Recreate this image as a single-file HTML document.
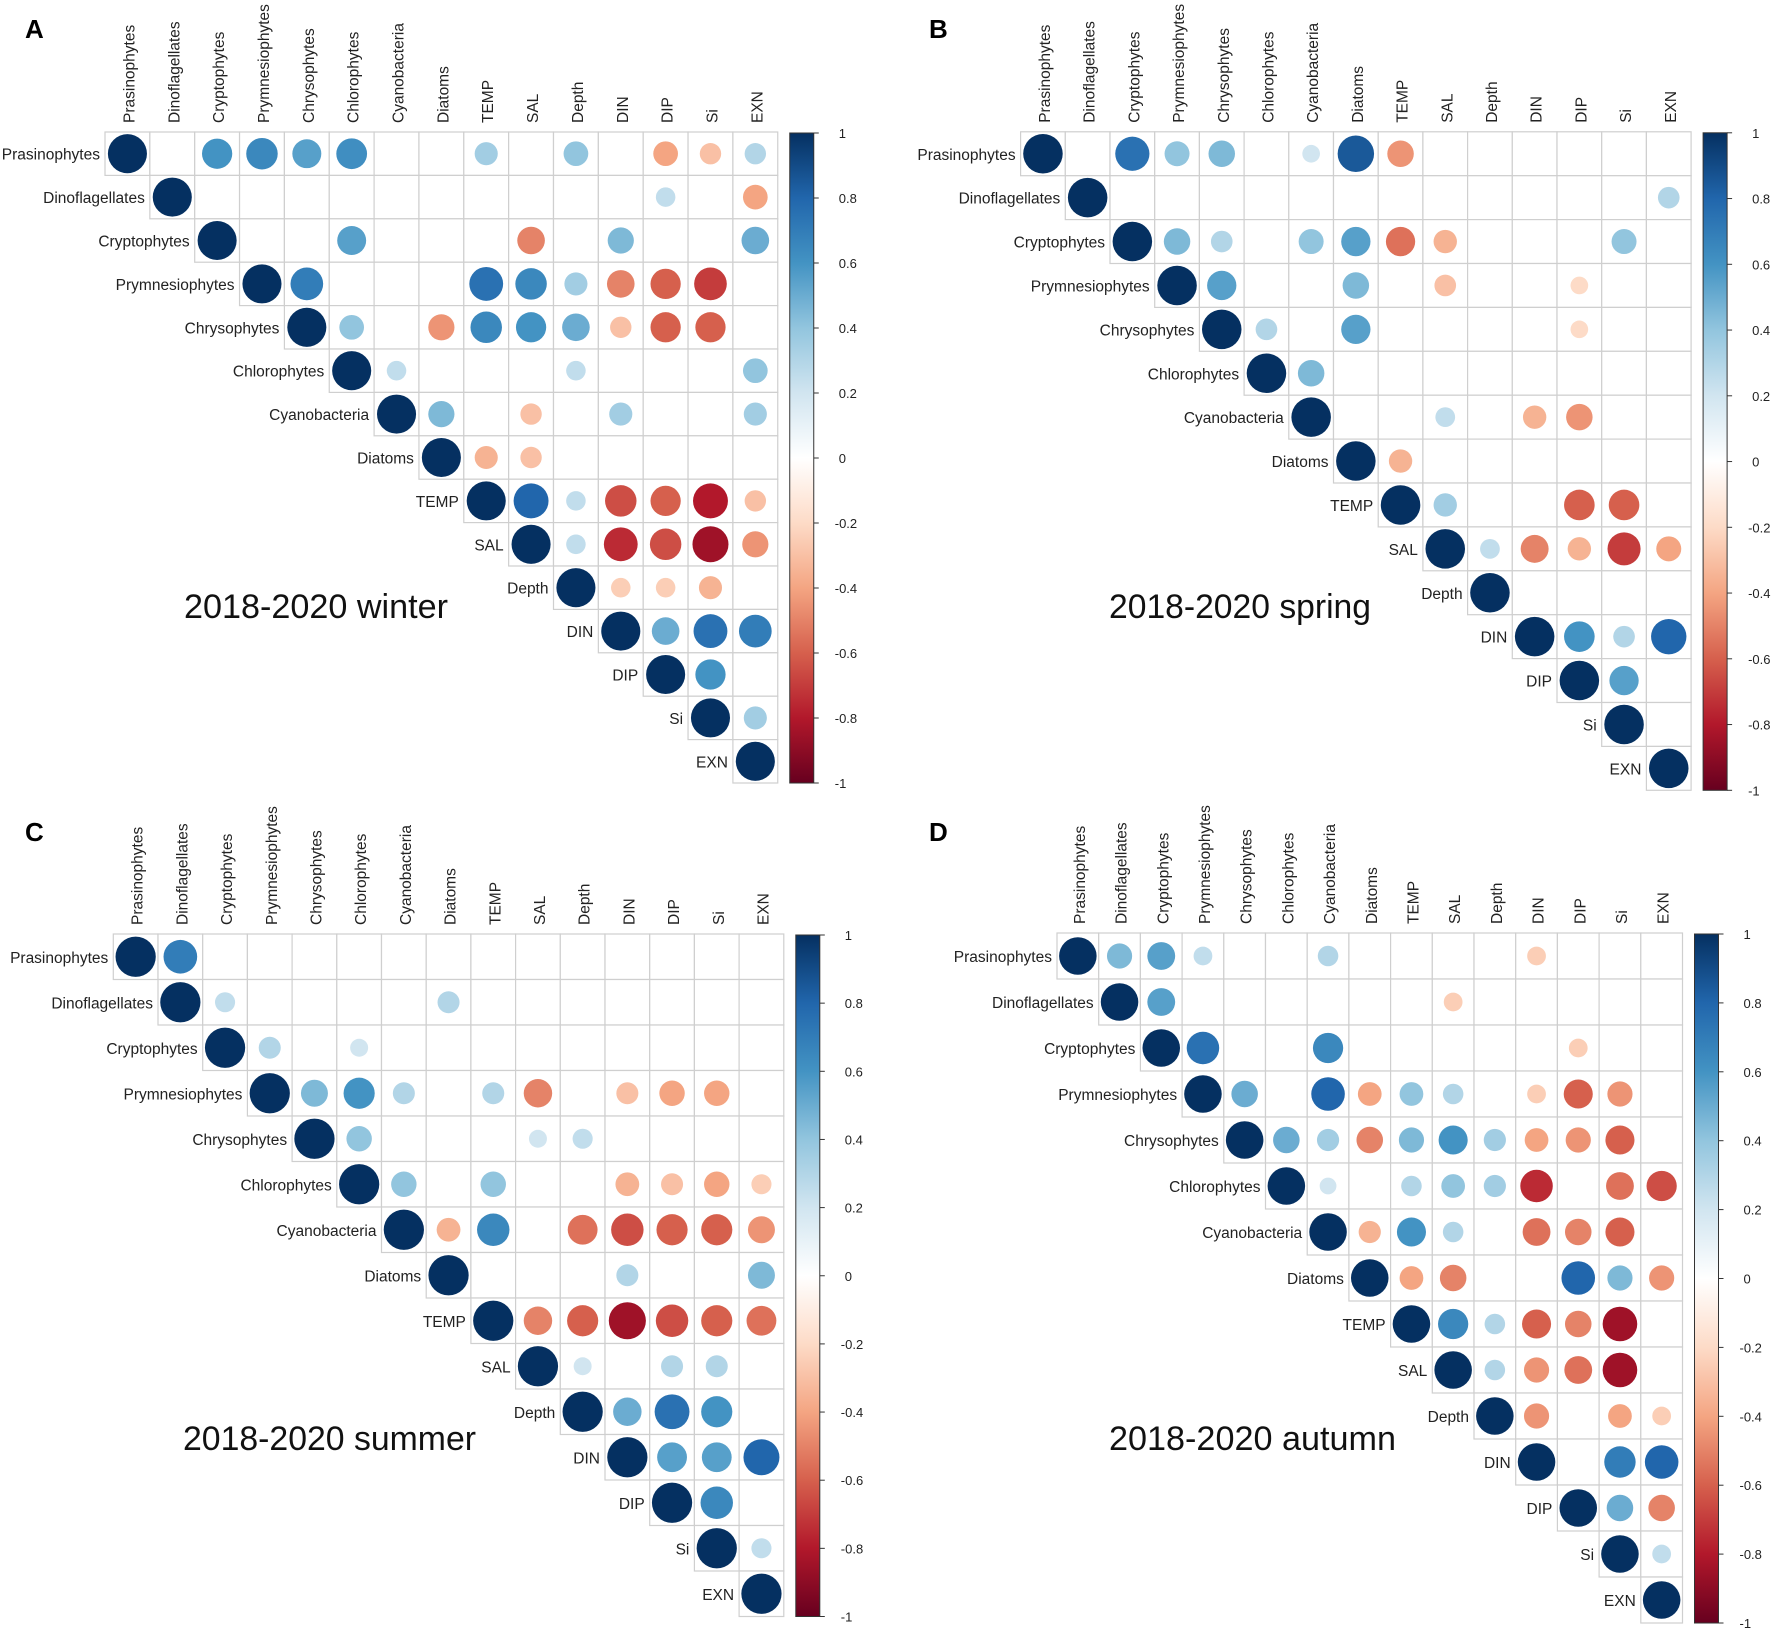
<!DOCTYPE html>
<html><head><meta charset="utf-8"><style>
html,body{margin:0;padding:0;background:#fff;}
svg{display:block;font-family:"Liberation Sans",Arial,sans-serif;}
</style></head><body>
<svg id="fig" width="1772" height="1633" viewBox="0 0 1772 1633" xmlns="http://www.w3.org/2000/svg"></svg>
<script>
const variables = ["Prasinophytes","Dinoflagellates","Cryptophytes","Prymnesiophytes","Chrysophytes","Chlorophytes","Cyanobacteria","Diatoms","TEMP","SAL","Depth","DIN","DIP","Si","EXN"];
const colorbarTicks = [1,0.8,0.6,0.4,0.2,0,-0.2,-0.4,-0.6,-0.8,-1];
const panelLetters = ["A","B","C","D"];
const panelTitles = ["2018-2020 winter","2018-2020 spring","2018-2020 summer","2018-2020 autumn"];
// upper-triangle rows (starting at diagonal)
const winter = [
[1,0,.6,.65,.55,.62,0,0,.35,0,.4,0,-.4,-.3,.3],
[1,0,0,0,0,0,0,0,0,0,0,.25,0,-.4],
[1,0,0,.55,0,0,0,-.5,0,.45,0,0,.5],
[1,.7,0,0,0,.75,.65,.35,-.5,-.6,-.7,0],
[1,.4,0,-.45,.65,.6,.5,-.3,-.6,-.6,0],
[1,.25,0,0,0,.25,0,0,0,.4],
[1,.45,0,-.3,0,.35,0,0,.35],
[1,-.35,-.3,0,0,0,0,0],
[1,.8,.25,-.65,-.6,-.8,-.3],
[1,.25,-.75,-.65,-.85,-.45],
[1,-.25,-.25,-.35,0],
[1,.5,.75,.7],
[1,.6,0],
[1,.35],
[1]];
const spring = [
[1,0,.75,.4,.45,0,.2,.85,-.45,0,0,0,0,0,0],
[1,0,0,0,0,0,0,0,0,0,0,0,0,.3],
[1,.45,.3,0,.4,.55,-.55,-.35,0,0,0,.4,0],
[1,.55,0,0,.45,0,-.3,0,0,-.2,0,0],
[1,.3,0,.55,0,0,0,0,-.2,0,0],
[1,.45,0,0,0,0,0,0,0,0],
[1,0,0,.25,0,-.35,-.45,0,0],
[1,-.35,0,0,0,0,0,0],
[1,.35,0,0,-.6,-.6,0],
[1,.25,-.5,-.35,-.7,-.4],
[1,0,0,0,0],
[1,.6,.3,.8],
[1,.55,0],
[1,0],
[1]];
const summer = [
[1,.7,0,0,0,0,0,0,0,0,0,0,0,0,0],
[1,.25,0,0,0,0,.3,0,0,0,0,0,0,0],
[1,.3,0,.2,0,0,0,0,0,0,0,0,0],
[1,.45,.6,.3,0,.3,-.5,0,-.3,-.4,-.4,0],
[1,.4,0,0,0,.2,.25,0,0,0,0],
[1,.4,0,.4,0,0,-.35,-.3,-.4,-.25],
[1,-.35,.65,0,-.55,-.65,-.6,-.6,-.45],
[1,0,0,0,.3,0,0,.45],
[1,-.5,-.6,-.85,-.65,-.6,-.55],
[1,.2,0,.3,.3,0],
[1,.5,.75,.6,0],
[1,.55,.55,.8],
[1,.65,0],
[1,.25],
[1]];
const autumn = [
[1,.45,.55,.25,0,0,.3,0,0,0,0,-.25,0,0,0],
[1,.55,0,0,0,0,0,0,-.25,0,0,0,0,0],
[1,.75,0,0,.65,0,0,0,0,0,-.25,0,0],
[1,.5,0,.8,-.4,.4,.3,0,-.25,-.6,-.45,0],
[1,.5,.35,-.5,.45,.6,.35,-.4,-.45,-.6,0],
[1,.2,0,.3,.4,.35,-.75,0,-.55,-.65],
[1,-.35,.6,.3,0,-.55,-.5,-.6,0],
[1,-.4,-.5,0,0,.8,.45,-.45],
[1,.65,.3,-.6,-.5,-.85,0],
[1,.3,-.45,-.55,-.85,0],
[1,-.45,0,-.4,-.25],
[1,0,.7,.8],
[1,.5,-.5],
[1,.25],
[1]];
const panelData = [winter,spring,summer,autumn];

const layouts = [
 {x0:105,y0:132,cw:44.85,ch:43.4,lx:25,ly:38,tx:184,ty:618,tl:264},
 {x0:1020.6,y0:131.8,cw:44.7,ch:43.9,lx:929,ly:38,tx:1109,ty:618,tl:262},
 {x0:113.3,y0:934,cw:44.7,ch:45.5,lx:25,ly:841,tx:183,ty:1450,tl:293},
 {x0:1057,y0:933,cw:41.7,ch:46,lx:929,ly:841,tx:1109,ty:1450,tl:287}
];
const pal = ["#67001F","#B2182B","#D6604D","#F4A582","#FDDBC7","#FFFFFF","#D1E5F0","#92C5DE","#4393C3","#2166AC","#053061"];
function hex(h){return [parseInt(h.substr(1,2),16),parseInt(h.substr(3,2),16),parseInt(h.substr(5,2),16)];}
function color(v){
  const t=(v+1)/2*(pal.length-1);
  const i=Math.min(Math.floor(t),pal.length-2), f=t-i;
  const a=hex(pal[i]), b=hex(pal[i+1]);
  return "rgb("+a.map((c,k)=>Math.round(c+(b[k]-c)*f)).join(",")+")";
}
const NS="http://www.w3.org/2000/svg";
const svg=document.getElementById("fig");
function mk(tag,attrs,parent){const e=document.createElementNS(NS,tag);for(const k in attrs)e.setAttribute(k,attrs[k]);(parent||svg).appendChild(e);return e;}

panelData.forEach((mat,p)=>{
  const L=layouts[p];
  const g=mk("g",{});
  
  
  const xs=j=>L.x0+j*L.cw, ys=i=>L.y0+i*L.ch;
  const r0=0.45*Math.min(L.cw,L.ch);
  const letter=mk("text",{x:L.lx,y:L.ly,"font-size":26,"font-weight":"bold",fill:"#000"},g);
  letter.textContent=panelLetters[p];
  
  
  const title=mk("text",{x:L.tx,y:L.ty,"font-size":34,fill:"#111",textLength:L.tl,lengthAdjust:"spacingAndGlyphs"},g);
  title.textContent=panelTitles[p];
  
  
  const n=variables.length;
  for(let i=0;i<n;i++){
    for(let j=i;j<n;j++){
      const cell=mk("rect",{x:xs(j),y:ys(i),width:L.cw,height:L.ch,fill:"#fff",stroke:"#cfcfcf","stroke-width":1.2},g);
      
      
    }
  }
  for(let i=0;i<n;i++){
    for(let j=i;j<n;j++){
      const v=mat[i][j-i];
      if(!v) continue;
      const c=mk("circle",{cx:xs(j)+L.cw/2,cy:ys(i)+L.ch/2,r:r0*Math.sqrt(Math.abs(v)),fill:color(v)},g);
      
      
    }
  }
  variables.forEach((name,k)=>{
    const cx=xs(k)+L.cw/2+7, by=L.y0-9;
    const t=mk("text",{x:0,y:0,transform:"translate("+cx+","+by+") rotate(-90)","font-size":15.5,fill:"#222"},g);
    t.textContent=name;
    
    
    const rt=mk("text",{x:xs(k)-5,y:ys(k)+L.ch/2+6,"font-size":15.5,fill:"#222","text-anchor":"end"},g);
    rt.textContent=name;
    
    
  });
  // colorbar
  const bx=xs(n)+12, bw=24, top=L.y0+1, bot=ys(n);
  const defs=mk("defs",{},g);
  const grad=mk("linearGradient",{id:"cb"+p,x1:0,y1:1,x2:0,y2:0},defs);
  pal.forEach((c,k)=>mk("stop",{offset:(k/(pal.length-1)),"stop-color":c},grad));
  const bar=mk("rect",{x:bx,y:top,width:bw,height:bot-top,fill:"url(#cb"+p+")",stroke:"#333","stroke-width":1},g);
  
  
  colorbarTicks.forEach(v=>{
    const y=top+(1-v)/2*(bot-top);
    mk("line",{x1:bx+bw,x2:bx+bw+5,y1:y,y2:y,stroke:"#333","stroke-width":1},g);
    const tl=mk("text",{x:bx+bw+(v<0?21:25),y:y+5,"font-size":13,fill:"#222"},g);
    tl.textContent=String(v);
    
    
  });
});
</script>
</body></html>
